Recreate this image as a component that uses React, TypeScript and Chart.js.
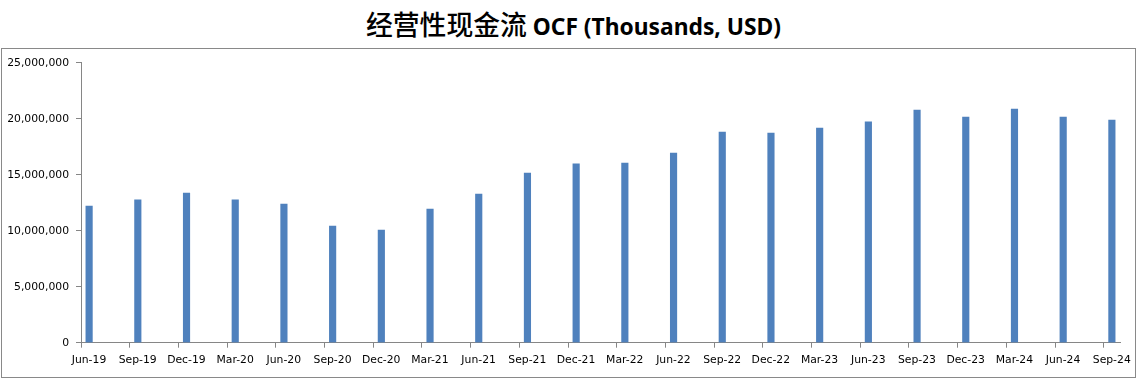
import { useEffect, useRef } from "react";
import { Chart, registerables } from "chart.js";

Chart.register(...registerables);

// Quarter-end categories
const categories = [
  "Jun-19", "Sep-19", "Dec-19", "Mar-20", "Jun-20", "Sep-20", "Dec-20", "Mar-21",
  "Jun-21", "Sep-21", "Dec-21", "Mar-22", "Jun-22", "Sep-22", "Dec-22", "Mar-23",
  "Jun-23", "Sep-23", "Dec-23", "Mar-24", "Jun-24", "Sep-24",
];

// Operating cash flow (thousands USD)
const ocfValues = [
  12200000, 12750000, 13370000, 12750000, 12380000, 10420000, 10060000, 11940000,
  13280000, 15150000, 15960000, 16040000, 16940000, 18810000, 18720000, 19170000,
  19710000, 20780000, 20150000, 20870000, 20150000, 19880000,
];

const yTickValues = [0, 5000000, 10000000, 15000000, 20000000, 25000000];

// date-axis style: one slot per month, quarters 3 months apart
const monthsPerCategory = 3;
const totalMonths = (categories.length - 1) * monthsPerCategory + 1;

const titleZh = "经营性现金流";
const titleEn = "OCF (Thousands, USD)";

const axisColor = "#868686";
const barColor = "#4F81BD";
const tickFont = { family: "'DejaVu Sans', sans-serif", size: 10.8 };

export default function App() {
  const canvasRef = useRef<HTMLCanvasElement | null>(null);

  useEffect(() => {
    document.body.style.margin = "0";
    const canvas = canvasRef.current;
    if (!canvas) return;
    const chart = new Chart(canvas, {
      type: "bar",
      data: {
        datasets: [
          {
            label: "OCF",
            data: categories.map((_, i) => ({ x: i * monthsPerCategory + 0.5, y: ocfValues[i] })),
            backgroundColor: barColor,
            borderWidth: 0,
            barThickness: 6.5,
          },
        ],
      },
      options: {
        animation: false,
        responsive: false,
        maintainAspectRatio: false,
        layout: { padding: { top: 13.7, right: 15, bottom: 0, left: 0 } },
        plugins: {
          legend: { display: false },
          tooltip: { enabled: false },
          title: { display: false },
        },
        scales: {
          x: {
            type: "linear",
            min: 0,
            max: totalMonths,
            offset: false,
            afterBuildTicks: (scale: any) => {
              scale.ticks = categories.map((_, i) => ({ value: i * monthsPerCategory }));
            },
            afterFit: (scale: any) => {
              scale.height = 34.3;
            },
            ticks: {
              autoSkip: false,
              maxRotation: 0,
              minRotation: 0,
              labelOffset: 8,
              padding: 6.5,
              color: "#000000",
              font: tickFont,
              callback: (_v: any, index: number) => categories[index] ?? "",
            },
            grid: {
              display: true,
              drawOnChartArea: false,
              drawTicks: true,
              tickLength: 5,
              color: axisColor,
              lineWidth: 1,
              offset: false,
            },
            border: { display: true, color: axisColor, width: 1 },
          },
          y: {
            type: "linear",
            min: 0,
            max: 25000000,
            afterBuildTicks: (scale: any) => {
              scale.ticks = yTickValues.map((v) => ({ value: v }));
            },
            afterFit: (scale: any) => {
              scale.width = 79;
            },
            ticks: {
              padding: 7,
              color: "#000000",
              font: tickFont,
              callback: (v: any) => Number(v).toLocaleString("en-US"),
            },
            grid: {
              display: true,
              drawOnChartArea: false,
              drawTicks: true,
              tickLength: 5,
              color: axisColor,
              lineWidth: 1,
            },
            border: { display: true, color: axisColor, width: 1 },
          },
        },
      },
    });
    return () => chart.destroy();
  }, []);

  return (
    <div
      style={{
        position: "absolute",
        left: 0,
        top: 0,
        width: 1147,
        height: 389,
        background: "#ffffff",
        overflow: "hidden",
      }}
    >
      <div
        style={{
          position: "absolute",
          left: 0,
          top: 0,
          width: 1147,
          height: 48,
          lineHeight: "47px",
          textAlign: "center",
          color: "#000000",
          whiteSpace: "nowrap",
        }}
      >
        <span style={{ fontFamily: "'Noto Sans CJK SC', sans-serif", fontSize: 26.8, fontWeight: 500 }}>
          {titleZh}
        </span>
        <span style={{ fontFamily: "'Noto Sans', sans-serif", fontSize: 22.8, fontWeight: 700 }}>
          {" " + titleEn}
        </span>
      </div>
      <div
        style={{
          position: "absolute",
          left: 1,
          top: 48,
          width: 1135,
          height: 330,
          boxSizing: "border-box",
          border: "1px solid #898989",
        }}
      >
        <canvas ref={canvasRef} width={1133} height={328} style={{ display: "block", width: 1133, height: 328 }} />
      </div>
    </div>
  );
}
